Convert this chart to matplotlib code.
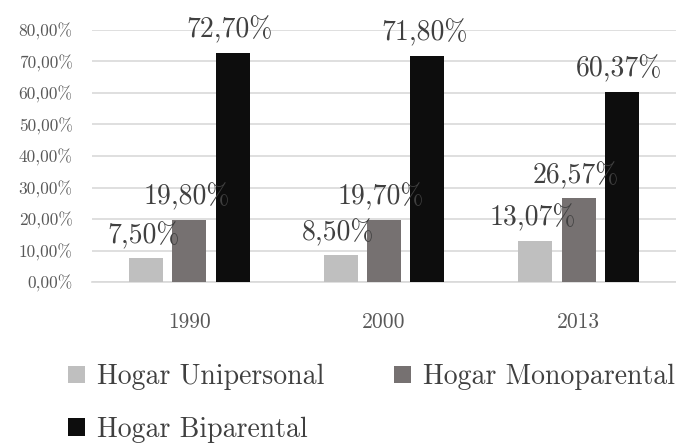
import numpy as np
import matplotlib
matplotlib.use('Agg')
import matplotlib.pyplot as plt

# datos
anios = ['1990', '2000', '2013']
series = ['Hogar Unipersonal', 'Hogar Monoparental', 'Hogar Biparental']
unipersonal = [0.0750, 0.0850, 0.1307]
monoparental = [0.1980, 0.1970, 0.2657]
biparental = [0.7270, 0.7180, 0.6037]
ticks_y = [0.0, 0.1, 0.2, 0.3, 0.4, 0.5, 0.6, 0.7, 0.8]

colores = ['#bfbfbf', '#767171', '#0d0d0d']
texto = '#404040'


def pct(v):
    return f'{v * 100:.2f}%'.replace('.', ',')


def main():
    fig = plt.figure(figsize=(6.76, 4.44), dpi=100)
    ax = fig.add_axes([92 / 676, 1 - 282 / 444, 584 / 676, 252 / 444])

    x = np.arange(len(anios))
    ancho = 0.175
    desp = 0.222
    valores = [unipersonal, monoparental, biparental]

    barras = []
    for i, (vals, nombre, col) in enumerate(zip(valores, series, colores)):
        pos = x + (i - 1) * desp
        b = ax.bar(pos, vals, ancho, color=col, label=nombre, zorder=3)
        barras.append(b)
        for px, v in zip(pos, vals):
            ax.annotate(pct(v), (px, v), xytext=(-2, 11), textcoords='offset points',
                        ha='center', va='baseline', fontsize=20, family='cmr10',
                        color=texto, annotation_clip=False, zorder=4)

    ax.set_xlim(-0.5, 2.5)
    ax.set_ylim(0, 0.8)
    ax.set_yticks(ticks_y)
    ax.set_yticklabels([pct(t) for t in ticks_y], family='cmr10', fontsize=12.5, color='#595959')
    ax.set_xticks(x)
    ax.set_xticklabels(anios, family='cmr10', fontsize=15.5, color='#595959')
    ax.tick_params(axis='y', length=0, pad=14)
    ax.tick_params(axis='x', length=0, pad=22)

    ax.yaxis.grid(True, color='#d9d9d9', linewidth=1.2, zorder=0)
    for lado in ['top', 'right', 'left']:
        ax.spines[lado].set_visible(False)
    ax.spines['bottom'].set_color('#d9d9d9')
    ax.spines['bottom'].set_linewidth(1.2)

    # orden por filas como en el original
    orden = [0, 2, 1]
    fig.legend([barras[k] for k in orden], [series[k] for k in orden],
               loc='upper left', bbox_to_anchor=(68 / 676, 1 - 364 / 444), ncol=2,
               frameon=False, prop={'family': 'cmr10', 'size': 20},
               labelcolor=texto, handlelength=0.6, handleheight=0.6,
               handletextpad=0.45, columnspacing=2.5, labelspacing=0.95,
               borderpad=0, borderaxespad=0)

    fig.savefig('out.png', dpi=100)


if __name__ == '__main__':
    main()
